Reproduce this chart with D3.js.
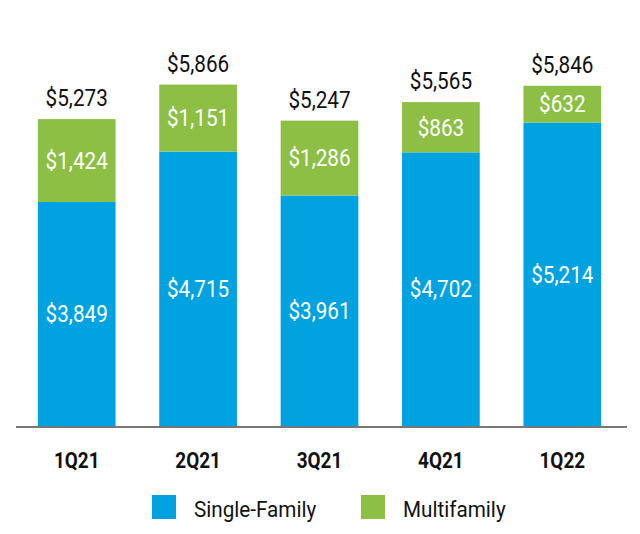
<!DOCTYPE html>
<html>
<head>
<meta charset="utf-8">
<script src="https://cdn.jsdelivr.net/npm/d3@7"></script>
<style>
  html, body { margin: 0; padding: 0; background: #fff; }
  svg { display: block; }
  text { font-family: "Roboto", "Liberation Sans", sans-serif; }
</style>
</head>
<body>
<svg id="chart" width="640" height="534"></svg>
<script>
const categories = ["1Q21", "2Q21", "3Q21", "4Q21", "1Q22"];
const singleFamily = [3849, 4715, 3961, 4702, 5214];
const multifamily = [1424, 1151, 1286, 863, 632];
const totals = [5273, 5866, 5247, 5565, 5846];
const seriesNames = ["Single-Family", "Multifamily"];
const colors = ["#00a3e0", "#8cbf44"];

const svg = d3.select("#chart");
const baseY = 426;
const condensed = 0.9;

const x = d3.scaleBand().domain(categories).range([16, 623]).paddingInner(0.36).paddingOuter(0.18);
const y = d3.scaleLinear().domain([0, 6000]).range([baseY, baseY - 6000 * 0.0582]);

const rows = categories.map((c, i) => ({ cat: c, sf: singleFamily[i], mf: multifamily[i], total: totals[i] }));
const stack = d3.stack().keys(["sf", "mf"])(rows);
const fmt = d3.format("$,");

const g = svg.append("g");
stack.forEach((layer, li) => {
  g.selectAll(null).data(layer).enter().append("rect")
    .attr("x", d => x(d.data.cat))
    .attr("width", x.bandwidth())
    .attr("y", d => y(d[1]))
    .attr("height", d => y(d[0]) - y(d[1]))
    .attr("fill", colors[li]);
  g.selectAll(null).data(layer).enter().append("text")
    .attr("transform", d => `translate(${x(d.data.cat) + x.bandwidth() / 2},${(y(d[0]) + y(d[1])) / 2}) scale(${condensed},1)`)
    .attr("dy", "0.36em")
    .attr("text-anchor", "middle")
    .attr("fill", "#fff")
    .attr("font-size", 23)
    .text(d => fmt(d[1] - d[0]));
});

// totals
g.selectAll(null).data(rows).enter().append("text")
  .attr("transform", d => `translate(${x(d.cat) + x.bandwidth() / 2},${y(d.total) - 13}) scale(${condensed},1)`)
  .attr("text-anchor", "middle")
  .attr("fill", "#111")
  .attr("font-size", 23)
  .text(d => fmt(d.total));

// axis
const axis = d3.axisBottom(x).tickSize(0).tickPadding(0);
const ax = svg.append("g").attr("transform", `translate(0,${baseY + 1})`).call(axis);
ax.select(".domain").attr("stroke", "#777").attr("stroke-width", 2).attr("d", "M16,0H627");
ax.selectAll(".tick text")
  .attr("y", 0)
  .attr("dy", 0)
  .attr("transform", "translate(0,41) scale(0.86,1)")
  .attr("font-size", 22)
  .attr("font-weight", "bold")
  .attr("fill", "#111")
  .style("font-family", '"Roboto", sans-serif');

// legend
const legendX = [152, 361];
const leg = svg.append("g");
seriesNames.forEach((n, i) => {
  leg.append("rect").attr("x", legendX[i]).attr("y", 495).attr("width", 24).attr("height", 24).attr("fill", colors[i]);
  leg.append("text")
    .attr("transform", `translate(${legendX[i] + 42},517) scale(0.94,1)`)
    .attr("font-size", 22).attr("fill", "#111").text(n);
});
</script>
</body>
</html>
